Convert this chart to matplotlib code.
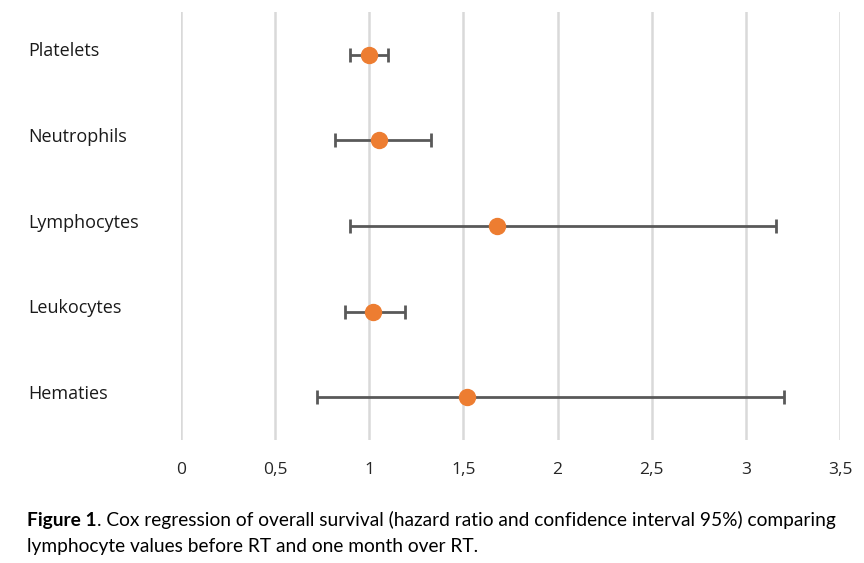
import numpy as np
import matplotlib.pyplot as plt
from matplotlib import transforms

# hazard ratios with 95% CI
variables = ['Hematies', 'Leukocytes', 'Lymphocytes', 'Neutrophils', 'Platelets']
hr = [1.52, 1.02, 1.68, 1.05, 1.00]
ci_low = [0.72, 0.87, 0.90, 0.82, 0.90]
ci_high = [3.20, 1.19, 3.16, 1.33, 1.10]
xticks = [0, 0.5, 1, 1.5, 2, 2.5, 3, 3.5]
xticklabels = ['0', '0,5', '1', '1,5', '2', '2,5', '3', '3,5']

hr = np.array(hr)
err = [hr - np.array(ci_low), np.array(ci_high) - hr]
ypos = np.arange(len(variables)) + 0.5

fig = plt.figure(figsize=(8.64, 5.63), dpi=100)
ax = fig.add_axes([181 / 864, 1 - 440 / 563, 659 / 864, 428 / 563])

ax.errorbar(hr, ypos, xerr=err, fmt='o', color='#ED7D31', markersize=11.5,
            ecolor='#595959', elinewidth=2, capsize=5, capthick=2, zorder=3)

ax.set_xlim(0, 3.5)
ax.set_ylim(0, 5)
ax.set_xticks(xticks)
ax.set_xticklabels(xticklabels, fontsize=12.5, color='#262626', family='Open Sans')
ax.tick_params(axis='x', length=0, pad=16)
ax.set_yticks([])
ax.grid(axis='x', color='#d9d9d9', linewidth=1.8)
ax.set_axisbelow(True)
for s in ax.spines.values():
    s.set_visible(False)

# category labels on the left
trans = transforms.blended_transform_factory(fig.transFigure, ax.transData)
for name, y in zip(variables, ypos):
    ax.text(28 / 864, y + 0.04, name, transform=trans, ha='left', va='center',
            fontsize=13, color='#1a1a1a', family='Open Sans')

# caption
t1 = fig.text(27 / 864, 1 - 529 / 563, 'Figure 1', fontsize=13.8, fontweight='bold',
              family='Lato', va='bottom')
fig.canvas.draw()
ax.annotate('. Cox regression of overall survival (hazard ratio and confidence interval 95%) comparing',
            xy=(1, 0), xycoords=t1, va='bottom', ha='left', fontsize=13.8, family='Lato')
fig.text(27 / 864, 1 - 555 / 563, 'lymphocyte values before RT and one month over RT.',
         fontsize=13.8, family='Lato', va='bottom')

fig.savefig('out.png', dpi=100)
